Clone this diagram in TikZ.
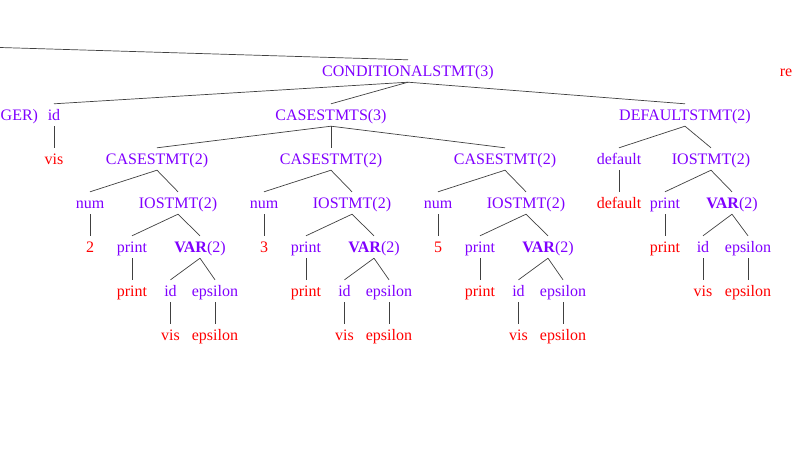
\documentclass[tikz,border=0pt]{standalone}
\usepackage{fontspec}
\setmainfont{Liberation Serif}
\definecolor{nt}{RGB}{128,0,255}
\definecolor{lf}{RGB}{255,0,0}
\definecolor{edgec}{RGB}{64,64,64}
\tikzset{
  tn/.style={inner xsep=0pt, inner ysep=5.5pt, text height=11pt, text depth=0pt, font=\fontsize{16}{19}\selectfont},
  ntn/.style={tn, text=nt},
  lfn/.style={tn, text=lf},
  edge/.style={draw=edgec, line width=0.7pt}
}
\begin{document}
\begin{tikzpicture}[x=1pt,y=-1pt]
\useasboundingbox (0,0) rectangle (793,463);
\clip (0,0) rectangle (793,463);
% level 0
\node[ntn] (c) at (408,71) {CONDITIONALSTMT(3)};
\node[lfn, anchor=east] (re) at (792.5,71) {re};
\coordinate (top) at (0,47.5);
% level 1
\node[ntn, anchor=west] (ger) at (0.5,115) {GER)};
\node[ntn] (id0) at (54,115) {id};
\node[ntn] (css) at (331,115) {CASESTMTS(3)};
\node[ntn] (dfs) at (685,115) {DEFAULTSTMT(2)};
% level 2
\node[lfn] (vis0) at (54,159) {vis};
\node[ntn] (cs1) at (157,159) {CASESTMT(2)};
\node[ntn] (cs2) at (331,159) {CASESTMT(2)};
\node[ntn] (cs3) at (505,159) {CASESTMT(2)};
\node[ntn] (dflt) at (619,159) {default};
\node[ntn] (io4) at (711,159) {IOSTMT(2)};
% level 3
\node[ntn] (num1) at (90,203) {num};
\node[ntn] (io1) at (178,203) {IOSTMT(2)};
\node[ntn] (num2) at (264,203) {num};
\node[ntn] (io2) at (352,203) {IOSTMT(2)};
\node[ntn] (num3) at (438,203) {num};
\node[ntn] (io3) at (526,203) {IOSTMT(2)};
\node[lfn] (dfltr) at (619,203) {default};
\node[ntn] (pr4) at (665,203) {print};
\node[ntn] (var4) at (732,203) {\textbf{VAR}(2)};
% level 4
\node[lfn] (v2) at (90,247) {2};
\node[ntn] (pr1) at (132,247) {print};
\node[ntn] (var1) at (200,247) {\textbf{VAR}(2)};
\node[lfn] (v3) at (264,247) {3};
\node[ntn] (pr2) at (306,247) {print};
\node[ntn] (var2) at (374,247) {\textbf{VAR}(2)};
\node[lfn] (v5) at (438,247) {5};
\node[ntn] (pr3) at (480,247) {print};
\node[ntn] (var3) at (548,247) {\textbf{VAR}(2)};
\node[lfn] (prr4) at (665,247) {print};
\node[ntn] (id4) at (703,247) {id};
\node[ntn] (eps4) at (748,247) {epsilon};
% level 5
\node[lfn] (prr1) at (132,291) {print};
\node[ntn] (id1) at (170.5,291) {id};
\node[ntn] (eps1) at (215,291) {epsilon};
\node[lfn] (prr2) at (306,291) {print};
\node[ntn] (id2) at (344.5,291) {id};
\node[ntn] (eps2) at (389,291) {epsilon};
\node[lfn] (prr3) at (480,291) {print};
\node[ntn] (id3) at (518.5,291) {id};
\node[ntn] (eps3) at (563,291) {epsilon};
\node[lfn] (vis4) at (703,291) {vis};
\node[lfn] (epsr4) at (748,291) {epsilon};
% level 6
\node[lfn] (vis1) at (170.5,335) {vis};
\node[lfn] (epsr1) at (215,335) {epsilon};
\node[lfn] (vis2) at (344.5,335) {vis};
\node[lfn] (epsr2) at (389,335) {epsilon};
\node[lfn] (vis3) at (518.5,335) {vis};
\node[lfn] (epsr3) at (563,335) {epsilon};
% edges
\draw[edge] (top) -- (c.north);
\draw[edge] (c.south) -- (id0.north);
\draw[edge] (c.south) -- (css.north);
\draw[edge] (c.south) -- (dfs.north);
\draw[edge] (id0.south) -- (vis0.north);
\draw[edge] (css.south) -- (cs1.north);
\draw[edge] (css.south) -- (cs2.north);
\draw[edge] (css.south) -- (cs3.north);
\draw[edge] (dfs.south) -- (dflt.north);
\draw[edge] (dfs.south) -- (io4.north);
\draw[edge] (cs1.south) -- (num1.north);
\draw[edge] (cs1.south) -- (io1.north);
\draw[edge] (cs2.south) -- (num2.north);
\draw[edge] (cs2.south) -- (io2.north);
\draw[edge] (cs3.south) -- (num3.north);
\draw[edge] (cs3.south) -- (io3.north);
\draw[edge] (dflt.south) -- (dfltr.north);
\draw[edge] (io4.south) -- (pr4.north);
\draw[edge] (io4.south) -- (var4.north);
\draw[edge] (num1.south) -- (v2.north);
\draw[edge] (io1.south) -- (pr1.north);
\draw[edge] (io1.south) -- (var1.north);
\draw[edge] (num2.south) -- (v3.north);
\draw[edge] (io2.south) -- (pr2.north);
\draw[edge] (io2.south) -- (var2.north);
\draw[edge] (num3.south) -- (v5.north);
\draw[edge] (io3.south) -- (pr3.north);
\draw[edge] (io3.south) -- (var3.north);
\draw[edge] (pr4.south) -- (prr4.north);
\draw[edge] (var4.south) -- (id4.north);
\draw[edge] (var4.south) -- (eps4.north);
\draw[edge] (pr1.south) -- (prr1.north);
\draw[edge] (var1.south) -- (id1.north);
\draw[edge] (var1.south) -- (eps1.north);
\draw[edge] (pr2.south) -- (prr2.north);
\draw[edge] (var2.south) -- (id2.north);
\draw[edge] (var2.south) -- (eps2.north);
\draw[edge] (pr3.south) -- (prr3.north);
\draw[edge] (var3.south) -- (id3.north);
\draw[edge] (var3.south) -- (eps3.north);
\draw[edge] (id4.south) -- (vis4.north);
\draw[edge] (eps4.south) -- (epsr4.north);
\draw[edge] (id1.south) -- (vis1.north);
\draw[edge] (eps1.south) -- (epsr1.north);
\draw[edge] (id2.south) -- (vis2.north);
\draw[edge] (eps2.south) -- (epsr2.north);
\draw[edge] (id3.south) -- (vis3.north);
\draw[edge] (eps3.south) -- (epsr3.north);
\end{tikzpicture}
\end{document}
